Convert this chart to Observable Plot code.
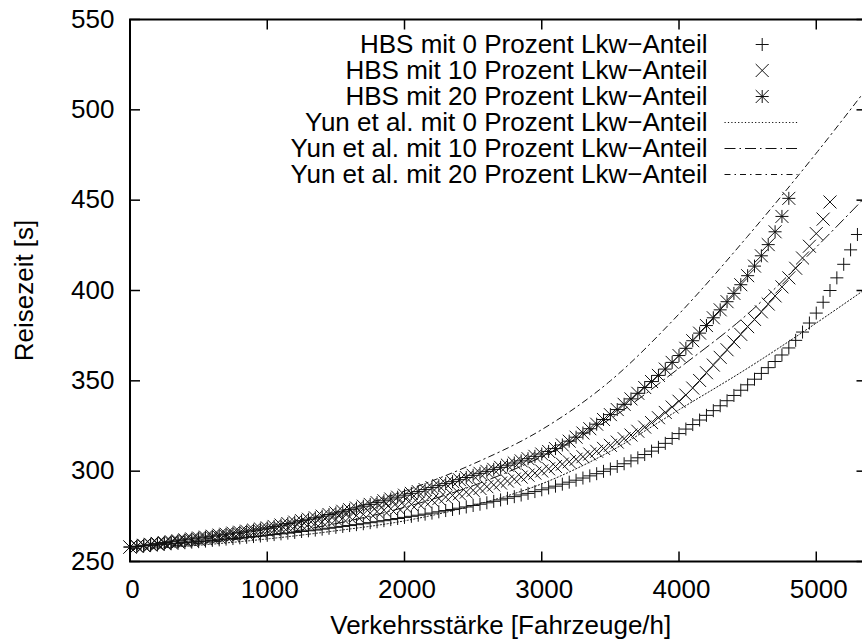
<!DOCTYPE html>
<html>
<head>
<meta charset="utf-8">
<script src="https://cdn.jsdelivr.net/npm/d3@7"></script>
<script src="https://cdn.jsdelivr.net/npm/@observablehq/plot@0.6"></script>
<style>
  html, body { margin: 0; padding: 0; background: #fff; overflow: hidden; }
  #chart { width: 870px; height: 642px; overflow: hidden; }
  #chart svg { max-width: none !important; }
</style>
</head>
<body>
<div id="chart"></div>
<script>
// ---- data ----
const xTicks = [0, 1000, 2000, 3000, 4000, 5000];
const yTicks = [250, 300, 350, 400, 450, 500, 550];

// flow (Fahrzeuge/h) of the HBS points
const hbsFlow = [
  0, 50, 100, 150, 200, 250, 300, 350, 400, 450,
  500, 550, 600, 650, 700, 750, 800, 850, 900, 950,
  1000, 1050, 1100, 1150, 1200, 1250, 1300, 1350, 1400, 1450,
  1500, 1550, 1600, 1650, 1700, 1750, 1800, 1850, 1900, 1950,
  2000, 2050, 2100, 2150, 2200, 2250, 2300, 2350, 2400, 2450,
  2500, 2550, 2600, 2650, 2700, 2750, 2800, 2850, 2900, 2950,
  3000, 3050, 3100, 3150, 3200, 3250, 3300, 3350, 3400, 3450,
  3500, 3550, 3600, 3650, 3700, 3750, 3800, 3850, 3900, 3950,
  4000, 4050, 4100, 4150, 4200, 4250, 4300, 4350, 4400, 4450,
  4500, 4550, 4600, 4650, 4700, 4750, 4800, 4850, 4900, 4950,
  5000, 5050, 5100, 5150, 5200, 5250, 5300
];

// HBS travel times [s]
const hbs0 = [
  258.0, 258.3, 258.6, 258.9, 259.2, 259.5, 259.8, 260.1, 260.4, 260.7,
  261.0, 261.3, 261.7, 262.0, 262.4, 262.7, 263.1, 263.4, 263.8, 264.1,
  264.5, 264.9, 265.3, 265.7, 266.1, 266.6, 267.0, 267.4, 267.9, 268.4,
  268.9, 269.4, 269.9, 270.4, 270.9, 271.5, 272.0, 272.6, 273.2, 273.8,
  274.4, 275.0, 275.6, 276.2, 276.8, 277.5, 278.2, 278.8, 279.5, 280.2,
  281.0, 281.7, 282.5, 283.3, 284.1, 285.0, 285.9, 286.8, 287.7, 288.7,
  289.7, 290.7, 291.7, 292.8, 293.9, 295.0, 296.2, 297.4, 298.6, 299.9,
  301.2, 302.6, 304.1, 305.7, 307.4, 309.2, 311.1, 313.2, 315.4, 318.1,
  320.8, 323.3, 325.8, 328.3, 330.9, 333.5, 336.2, 339.0, 341.9, 344.8,
  347.8, 350.9, 354.1, 357.3, 360.7, 364.3, 368.2, 372.4, 377.0, 382.0,
  387.5, 393.5, 400.0, 407.0, 414.5, 422.5, 431.0
];
const hbs10 = [
  258.0, 258.4, 258.8, 259.2, 259.6, 260.0, 260.4, 260.8, 261.2, 261.6,
  262.0, 262.5, 263.0, 263.5, 264.0, 264.5, 265.0, 265.5, 266.0, 266.5,
  267.0, 267.6, 268.2, 268.8, 269.4, 270.0, 270.6, 271.2, 271.9, 272.6,
  273.3, 274.0, 274.7, 275.4, 276.1, 276.8, 277.6, 278.4, 279.2, 280.0,
  280.8, 281.6, 282.4, 283.2, 284.0, 284.8, 285.7, 286.6, 287.5, 288.4,
  289.4, 290.4, 291.4, 292.4, 293.4, 294.5, 295.6, 296.7, 297.8, 298.9,
  300.1, 301.3, 302.6, 303.9, 305.2, 306.6, 308.0, 309.5, 311.0, 312.6,
  314.3, 316.1, 318.0, 320.0, 322.1, 324.4, 326.9, 329.6, 332.5, 335.5,
  338.7, 342.1, 346.0, 350.2, 354.5, 358.7, 363.0, 367.2, 371.5, 375.7,
  380.0, 384.0, 388.2, 392.5, 397.0, 402.0, 407.0, 412.3, 418.0, 424.5,
  431.5, 439.5, 449.0
];
const hbs20 = [
  258.0, 258.5, 259.0, 259.5, 260.0, 260.5, 261.0, 261.5, 262.0, 262.5,
  263.0, 263.5, 264.0, 264.6, 265.1, 265.7, 266.2, 266.8, 267.4, 268.0,
  268.6, 269.4, 270.2, 271.0, 271.8, 272.6, 273.4, 274.2, 275.1, 276.0,
  276.9, 277.8, 278.7, 279.6, 280.6, 281.6, 282.6, 283.6, 284.6, 285.6,
  286.7, 287.7, 288.7, 289.8, 290.9, 292.0, 293.1, 294.2, 295.3, 296.5,
  297.7, 298.8, 299.9, 301.0, 302.1, 303.3, 304.5, 305.7, 306.9, 308.2,
  309.5, 310.9, 312.5, 314.5, 316.6, 318.8, 321.1, 323.5, 326.0, 328.6,
  331.3, 334.1, 337.0, 340.0, 343.1, 346.3, 349.6, 353.0, 356.5, 360.2,
  364.0, 368.0, 372.2, 376.4, 380.6, 384.9, 389.3, 393.8, 398.4, 403.2,
  408.2, 413.5, 419.2, 425.4, 432.5, 441.0, 451.0
];

// Yun et al. model curves
const yunFlow = [0, 500, 1000, 1500, 2000, 2500, 3000, 3500, 4000, 4500, 5000, 5400];
const yun0  = [256.5, 259.0, 262.5, 267.0, 272.5, 281.0, 293.0, 311.0, 334.0, 357.0, 382.0, 403.0];
const yun10 = [257.0, 260.0, 264.5, 271.0, 280.0, 292.0, 308.0, 329.0, 357.0, 387.0, 424.0, 455.0];
const yun20 = [258.0, 262.0, 268.0, 277.0, 289.0, 304.0, 323.0, 350.0, 387.0, 430.0, 476.0, 515.0];

const seriesLabels = [
  "HBS mit 0 Prozent Lkw\u2212Anteil",
  "HBS mit 10 Prozent Lkw\u2212Anteil",
  "HBS mit 20 Prozent Lkw\u2212Anteil",
  "Yun et al. mit 0 Prozent Lkw\u2212Anteil",
  "Yun et al. mit 10 Prozent Lkw\u2212Anteil",
  "Yun et al. mit 20 Prozent Lkw\u2212Anteil"
];
const xLabel = "Verkehrsst\u00e4rke [Fahrzeuge/h]";
const yLabel = "Reisezeit [s]";

// ---- build tables ----
const toPoints = (xs, ys) => ys.map((y, i) => ({x: xs[i], y}));
const pts0 = toPoints(hbsFlow, hbs0);
const pts10 = toPoints(hbsFlow, hbs10);
const pts20 = toPoints(hbsFlow, hbs20);
const line0 = toPoints(yunFlow, yun0);
const line10 = toPoints(yunFlow, yun10);
const line20 = toPoints(yunFlow, yun20);

// ---- custom symbols (gnuplot style) ----
const rad = (size) => Math.sqrt(size / Math.PI);
const symPlus = {draw(c, s) { const r = rad(s); c.moveTo(-r, 0); c.lineTo(r, 0); c.moveTo(0, -r); c.lineTo(0, r); }};
const symTimes = {draw(c, s) { const r = rad(s); c.moveTo(-r, -r); c.lineTo(r, r); c.moveTo(-r, r); c.lineTo(r, -r); }};
const symStar = {draw(c, s) { const r = rad(s); c.moveTo(-r, 0); c.lineTo(r, 0); c.moveTo(0, -r); c.lineTo(0, r); c.moveTo(-r, -r); c.lineTo(r, r); c.moveTo(-r, r); c.lineTo(r, -r); }};
const symTickUp = {draw(c, s) { const r = rad(s); c.moveTo(0, 0); c.lineTo(0, -r); }};
const symTickDown = {draw(c, s) { const r = rad(s); c.moveTo(0, 0); c.lineTo(0, r); }};
const symTickRight = {draw(c, s) { const r = rad(s); c.moveTo(0, 0); c.lineTo(r, 0); }};
const symTickLeft = {draw(c, s) { const r = rad(s); c.moveTo(0, 0); c.lineTo(-r, 0); }};
const symHLine = {draw(c, s) { const r = rad(s); c.moveTo(-r, 0); c.lineTo(r, 0); }};

const markerR = 6.5;
const ink = "#111";
const dash0 = "1.2,2.2";
const dash10 = "11,4,1.5,4";
const dash20 = "6,4,1.5,4";
const fs = 26;

const legendMarks = [];
const legendRowDy = [25, 51, 77, 103, 129, 155];
seriesLabels.forEach((label, i) => {
  legendMarks.push(Plot.text([label], {
    frameAnchor: "top-right", textAnchor: "end", lineAnchor: "middle",
    dx: -159, dy: legendRowDy[i], fill: "black", fontSize: fs
  }));
});
const legendSyms = [symPlus, symTimes, symStar];
legendSyms.forEach((sym, i) => {
  legendMarks.push(Plot.dot([0], {
    frameAnchor: "top-right", dx: -104.3, dy: legendRowDy[i], symbol: sym, r: markerR,
    fill: "none", stroke: ink, strokeWidth: 1
  }));
});
[dash0, dash10, dash20].forEach((da, i) => {
  legendMarks.push(Plot.dot([0], {
    frameAnchor: "top-right", dx: -105.5, dy: legendRowDy[3 + i], symbol: symHLine, r: 36.5,
    fill: "none", stroke: ink, strokeWidth: 1, strokeDasharray: da
  }));
});

const chart = Plot.plot({
  width: 870,
  height: 642,
  marginLeft: 129.5,
  marginRight: 4,
  marginTop: 19,
  marginBottom: 81,
  style: {fontFamily: "'Liberation Sans', Arial, Helvetica, sans-serif", fontSize: "26px", color: "black", background: "white", overflow: "hidden", maxWidth: "none"},
  x: {domain: [0, 5366], ticks: xTicks},
  y: {domain: [250, 550], ticks: yTicks},
  marks: [
    // model curves
    Plot.line(line0, {x: "x", y: "y", curve: "monotone-x", stroke: ink, strokeWidth: 1, strokeDasharray: dash0, clip: true}),
    Plot.line(line10, {x: "x", y: "y", curve: "monotone-x", stroke: ink, strokeWidth: 1, strokeDasharray: dash10, clip: true}),
    Plot.line(line20, {x: "x", y: "y", curve: "monotone-x", stroke: ink, strokeWidth: 1, strokeDasharray: dash20, clip: true}),
    // HBS points
    Plot.dot(pts0, {x: "x", y: "y", symbol: symPlus, r: markerR, fill: "none", stroke: ink, strokeWidth: 1}),
    Plot.dot(pts10, {x: "x", y: "y", symbol: symTimes, r: markerR, fill: "none", stroke: ink, strokeWidth: 1}),
    Plot.dot(pts20, {x: "x", y: "y", symbol: symStar, r: markerR, fill: "none", stroke: ink, strokeWidth: 1}),
    // axes (labels only, ticks drawn inward below)
    Plot.axisX({ticks: xTicks, tickSize: 0, tickPadding: 18, dx: 2.5, tickFormat: d => String(d), label: null, fontSize: fs}),
    Plot.axisY({ticks: yTicks, tickSize: 0, tickPadding: 15.5, tickFormat: d => String(d), label: null, fontSize: fs}),
    // inward ticks on all four sides
    Plot.dot(xTicks, {x: d => d, frameAnchor: "bottom", symbol: symTickUp, r: 10, stroke: "black", strokeWidth: 1.5}),
    Plot.dot(xTicks, {x: d => d, frameAnchor: "top", symbol: symTickDown, r: 10, stroke: "black", strokeWidth: 1.5}),
    Plot.dot(yTicks, {y: d => d, frameAnchor: "left", symbol: symTickRight, r: 10, stroke: "black", strokeWidth: 1.5}),
    Plot.dot(yTicks, {y: d => d, frameAnchor: "right", symbol: symTickLeft, r: 10, stroke: "black", strokeWidth: 1.5}),
    Plot.frame({stroke: "black", strokeWidth: 2}),
    // axis titles
    Plot.text([xLabel], {frameAnchor: "bottom", textAnchor: "middle", lineAnchor: "middle", dx: 2.5, dy: 64.3, fill: "black", fontSize: fs}),
    Plot.text([yLabel], {frameAnchor: "left", textAnchor: "middle", lineAnchor: "middle", dx: -105.5, rotate: -90, fill: "black", fontSize: fs}),
    ...legendMarks
  ]
});
document.getElementById("chart").appendChild(chart);
</script>
</body>
</html>
